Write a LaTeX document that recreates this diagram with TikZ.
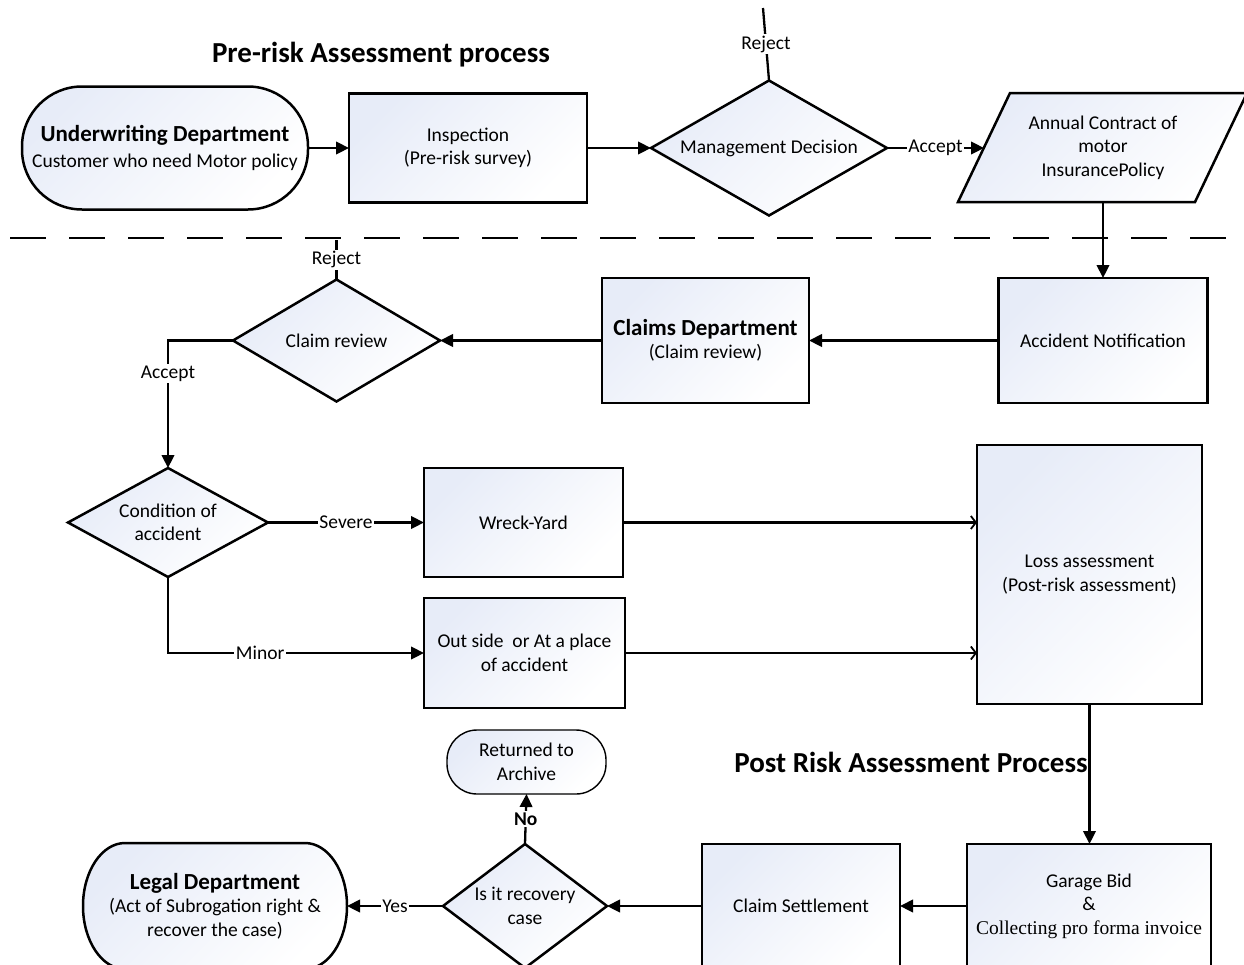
\documentclass[tikz,border=0pt]{standalone}
\usepackage{fontspec}
\setmainfont{Carlito}
\newfontfamily\seriffont{Liberation Serif}
\usetikzlibrary{arrows.meta,shapes.geometric}
\definecolor{boxtint}{RGB}{231,236,248}

\newcommand{\bodysize}{\fontsize{19.5}{23.5}\selectfont}
\newcommand{\headsize}{\fontsize{23}{27}\selectfont}
\newcommand{\titlesize}{\fontsize{29}{34}\selectfont}

\begin{document}
\begin{tikzpicture}[x=1pt,y=-1pt,
  every node/.style={inner sep=0pt, outer sep=0pt, align=center, font=\bodysize},
  tint/.style={top color=boxtint, bottom color=white, shading angle=45},
  box/.style={rectangle, draw, line width=2.5pt, tint},
  stadium/.style={rectangle, rounded corners=#1, draw, line width=2.5pt, tint},
  dia/.style={diamond, draw, line width=2.5pt, tint},
  shapeline/.style={draw, line width=2.5pt, tint},
  plain/.style={rectangle},
  line/.style={draw, line width=2.3pt},
  conn/.style={line, -{Triangle[length=13pt,width=12.5pt]}},
  openconn/.style={draw, line width=2.1pt, -{Straight Barb[length=5pt,width=13pt,line width=1.8pt]}},
  lbl/.style={fill=white, inner sep=1.5pt, font=\bodysize},
  title/.style={font=\titlesize\bfseries},
]
\useasboundingbox (0,0) rectangle (1244,964);
\clip (0,0) rectangle (1244,964);

% section headings
\node[title] (pretitle) at (381,55) {Pre-risk Assessment process};
\node[title] (posttitle) at (911,762) {Post Risk Assessment Process};

% section divider
\draw[line width=2.5pt, dash pattern=on 36pt off 23pt] (10,238) -- (1233,238);

% ---------- pre-risk row ----------
\node[stadium=60pt, minimum width=286pt, minimum height=123pt] (uw) at (165,148)
  {{\headsize\bfseries Underwriting Department}\\[2pt]Customer who need Motor policy};
\node[box, minimum width=238pt, minimum height=109pt] (insp) at (468,148)
  {Inspection\\(Pre-risk survey)};
\node[dia, minimum width=236pt, minimum height=135pt,
  label={center:Management Decision}] (mgmt) at (769,148) {};

% contract parallelogram
\path[shapeline] (958,202) -- (1195,202) -- (1247,93) -- (1010,93) -- cycle;
\node[plain, minimum width=237pt, minimum height=109pt] (contract) at (1103,147.5)
  {Annual Contract of\\motor\\InsurancePolicy};
\coordinate (contractin) at (984,148);
\coordinate (rejecttop) at (763,8);

% ---------- claims row ----------
\node[box, minimum width=209pt, minimum height=125pt] (notif) at (1103,340.5)
  {Accident Notification};
\node[box, minimum width=207pt, minimum height=125pt] (claims) at (705.5,340.5)
  {{\headsize\bfseries Claims Department}\\(Claim review)};
\node[dia, minimum width=207pt, minimum height=122pt,
  label={center:Claim review}] (crev) at (336.5,340.5) {};
\coordinate (rejectmid) at (336.5,240);

% ---------- assessment ----------
\node[dia, minimum width=200pt, minimum height=109pt,
  label={center:{Condition of\\accident}}] (cond) at (168,522.5) {};
\node[box, minimum width=199pt, minimum height=109pt] (wreck) at (523.5,522.5)
  {Wreck-Yard};
\node[box, minimum width=201pt, minimum height=110pt] (outside) at (524.5,653)
  {Out side~~or At a place\\of accident};
\node[box, minimum width=225pt, minimum height=259pt] (loss) at (1089.5,574.5)
  {Loss assessment\\(Post-risk assessment)};

% ---------- settlement row ----------
\node[box, minimum width=244pt, minimum height=124pt] (garage) at (1089,906)
  {Garage Bid\\\&\\{\seriffont Collecting pro forma invoice}};
\node[box, minimum width=198pt, minimum height=124pt] (settle) at (801,906)
  {Claim Settlement};
\node[dia, minimum width=164pt, minimum height=124pt,
  label={center:{Is it recovery\\case}}] (recov) at (525,906) {};
\node[stadium=30pt, line width=1.4pt, minimum width=159pt, minimum height=64pt] (archive) at (526.5,762)
  {Returned to\\Archive};

% legal department terminal with elliptical ends
\path[shapeline] (125,843) -- (305,843)
  arc[start angle=90, end angle=-90, x radius=42pt, y radius=63pt] -- (125,969)
  arc[start angle=-90, end angle=-270, x radius=42pt, y radius=63pt] -- cycle;
\node[plain, minimum width=264pt, minimum height=126pt] (legal) at (215,906)
  {{\headsize\bfseries Legal Department}\\(Act of Subrogation right \&\\recover the case)};

% ---------- connectors ----------
\draw[conn] (uw.east) -- (insp.west);
\draw[conn] (insp.east) -- (mgmt.west);
\draw[line] (mgmt.north) -- node[lbl] {Reject} (rejecttop);
\draw[conn] (mgmt.east) -- node[lbl] {Accept} (contractin);
\draw[conn] (contract.south) -- (notif.north);
\draw[conn] (notif.west) -- (claims.east);
\draw[conn] (claims.west) -- (crev.east);
\draw[line] (crev.north) -- node[lbl] {Reject} (rejectmid);
\draw[conn] (crev.west) -| node[lbl, pos=0.63] {Accept} (cond.north);
\draw[conn] (cond.east) -- node[lbl] {Severe} (wreck.west);
\draw[conn] (cond.south) |- node[lbl, pos=0.68] {Minor} (outside.west);
\draw[openconn] (wreck.east) -- (loss.west |- wreck.east);
\draw[openconn] (outside.east) -- (loss.west |- outside.east);
\draw[conn] (loss.south) -- (loss.south |- garage.north);
\draw[conn] (garage.west) -- (settle.east);
\draw[conn] (settle.west) -- (recov.east);
\draw[conn] (recov.west) -- node[lbl] {Yes} (legal.east);
\draw[conn] (recov.north) -- node[lbl, font=\bodysize\bfseries] {No} (archive.south);
\end{tikzpicture}
\end{document}
